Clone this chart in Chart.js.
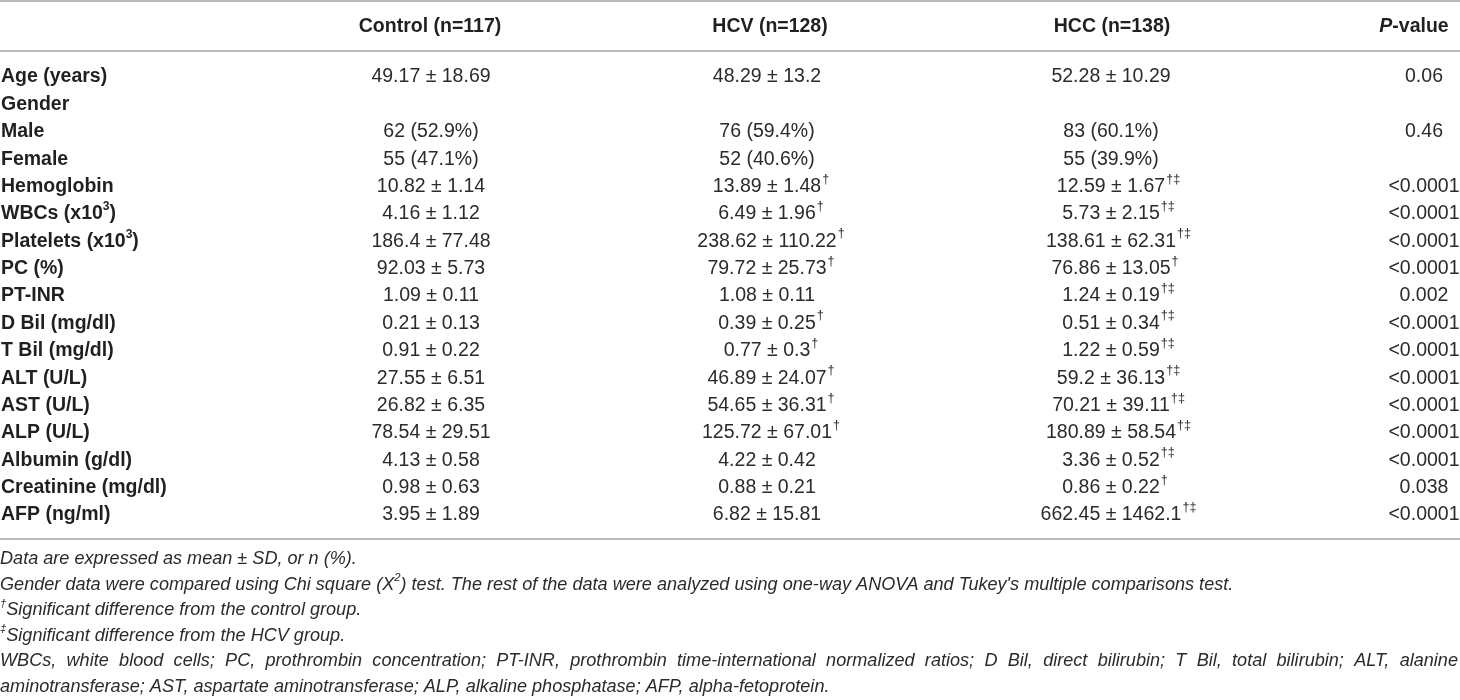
<!DOCTYPE html>
<html>
<head>
<meta charset="utf-8">
<script src="https://cdn.jsdelivr.net/npm/chart.js@4.4.1/dist/chart.umd.min.js"></script>
<style>
  html, body { margin: 0; padding: 0; background: #fff; }
  #wrap { width: 1460px; height: 700px; position: relative; }
</style>
</head>
<body>
<div id="wrap"><canvas id="tableChart"></canvas></div>
<script>
// Table content (superscripts written as ^{...})
const headers = ['', 'Control (n=117)', 'HCV (n=128)', 'HCC (n=138)', 'P-value'];
const rowLabels = [
    'Age (years)', 'Gender', 'Male', 'Female', 'Hemoglobin', 'WBCs (x10^{3})',
    'Platelets (x10^{3})', 'PC (%)', 'PT-INR', 'D Bil (mg/dl)', 'T Bil (mg/dl)',
    'ALT (U/L)', 'AST (U/L)', 'ALP (U/L)', 'Albumin (g/dl)', 'Creatinine (mg/dl)', 'AFP (ng/ml)'
];
const controlValues = [
    '49.17 ± 18.69', '', '62 (52.9%)', '55 (47.1%)', '10.82 ± 1.14', '4.16 ± 1.12',
    '186.4 ± 77.48', '92.03 ± 5.73', '1.09 ± 0.11', '0.21 ± 0.13', '0.91 ± 0.22',
    '27.55 ± 6.51', '26.82 ± 6.35', '78.54 ± 29.51', '4.13 ± 0.58', '0.98 ± 0.63', '3.95 ± 1.89'
];
const hcvValues = [
    '48.29 ± 13.2', '', '76 (59.4%)', '52 (40.6%)', '13.89 ± 1.48', '6.49 ± 1.96',
    '238.62 ± 110.22', '79.72 ± 25.73', '1.08 ± 0.11', '0.39 ± 0.25', '0.77 ± 0.3',
    '46.89 ± 24.07', '54.65 ± 36.31', '125.72 ± 67.01', '4.22 ± 0.42', '0.88 ± 0.21', '6.82 ± 15.81'
];
const hcvMarks = ['', '', '', '', '†', '†', '†', '†', '', '†', '†', '†', '†', '†', '', '', ''];
const hccValues = [
    '52.28 ± 10.29', '', '83 (60.1%)', '55 (39.9%)', '12.59 ± 1.67', '5.73 ± 2.15',
    '138.61 ± 62.31', '76.86 ± 13.05', '1.24 ± 0.19', '0.51 ± 0.34', '1.22 ± 0.59',
    '59.2 ± 36.13', '70.21 ± 39.11', '180.89 ± 58.54', '3.36 ± 0.52', '0.86 ± 0.22', '662.45 ± 1462.1'
];
const hccMarks = ['', '', '', '', '†‡', '†‡', '†‡', '†', '†‡', '†‡', '†‡', '†‡', '†‡', '†‡', '†‡', '†', '†‡'];
const pValues = [
    '0.06', '', '0.46', '', '<0.0001', '<0.0001', '<0.0001', '<0.0001', '0.002',
    '<0.0001', '<0.0001', '<0.0001', '<0.0001', '<0.0001', '<0.0001', '0.038', '<0.0001'
];
const footnotes = [
    'Data are expressed as mean ± SD, or n (%).',
    'Gender data were compared using Chi square (X^{2}) test. The rest of the data were analyzed using one-way ANOVA and Tukey\'s multiple comparisons test.',
    '^{†}Significant difference from the control group.',
    '^{‡}Significant difference from the HCV group.',
    'WBCs, white blood cells; PC, prothrombin concentration; PT-INR, prothrombin time-international normalized ratios; D Bil, direct bilirubin; T Bil, total bilirubin; ALT, alanine',
    'aminotransferase; AST, aspartate aminotransferase; ALP, alkaline phosphatase; AFP, alpha-fetoprotein.'
];
const justifiedNotes = [4];

// layout (row units on the y scale: data row i sits at value i)
const ROW_TOP = 77, ROW_H = 27.375, PAGE_H = 700;
const colX = [1, 431, 767, 1111, 1424];
const headerX = [1, 430, 770, 1112, 1414];
const toRow = px => (px - ROW_TOP) / ROW_H;
const headerRow = toRow(27);
const ruleRows = [toRow(1), toRow(51), toRow(539)];
const noteRow0 = toRow(559), noteStep = 25.6 / ROW_H;

const FAMILY = '"Liberation Sans", Arial, Helvetica, sans-serif';
const TEXT = '#231f20';
const VALUE_TEXT = '#2c2a2b';
const RULE = '#a3a3a3';

// split "abc^{x}def" into parts
function parseRich(s) {
    const parts = [];
    const re = /\^\{([^}]*)\}/g;
    let last = 0, m;
    while ((m = re.exec(s)) !== null) {
        if (m.index > last) parts.push({ t: s.slice(last, m.index), sup: false });
        parts.push({ t: m[1], sup: true });
        last = re.lastIndex;
    }
    if (last < s.length) parts.push({ t: s.slice(last), sup: false });
    return parts;
}

function font(style, size) { return style + ' ' + size + 'px ' + FAMILY; }

function drawRich(ctx, parts, x, y, style, size) {
    parts.forEach(p => {
        const s = p.sup ? size * 0.62 : size;
        ctx.font = font(style, s);
        ctx.fillText(p.t, x, p.sup ? y - size * 0.36 : y);
        x += ctx.measureText(p.t).width;
    });
    return x;
}

// main text centred on x, marks hang after it
function drawCell(ctx, text, mark, x, y, size) {
    if (!text) return;
    ctx.font = font('normal', size);
    const w = ctx.measureText(text).width;
    const left = x - w / 2;
    ctx.fillText(text, left, y);
    if (mark) {
        ctx.font = font('normal', size * 0.65);
        ctx.fillText(mark, left + w + 1, y - size * 0.38);
    }
}

const tablePlugin = {
    id: 'tableText',
    afterDatasetsDraw(chart) {
        const ctx = chart.ctx;
        const xs = chart.scales.x, ys = chart.scales.y;
        const size = 19.5;
        ctx.save();
        ctx.fillStyle = TEXT;
        ctx.textBaseline = 'middle';
        ctx.textAlign = 'left';

        // header
        const hy = ys.getPixelForValue(headerRow);
        headers.forEach((h, i) => {
            if (!h) return;
            const cx = xs.getPixelForValue(headerX[i]);
            if (h === 'P-value') {
                ctx.font = font('italic bold', size);
                const wp = ctx.measureText('P').width;
                ctx.font = font('bold', size);
                const wr = ctx.measureText('-value').width;
                const left = cx - (wp + wr) / 2;
                ctx.font = font('italic bold', size);
                ctx.fillText('P', left, hy);
                ctx.font = font('bold', size);
                ctx.fillText('-value', left + wp, hy);
            } else {
                ctx.font = font('bold', size);
                ctx.fillText(h, cx - ctx.measureText(h).width / 2, hy);
            }
        });

        // body rows
        rowLabels.forEach((label, i) => {
            const y = ys.getPixelForValue(i);
            ctx.fillStyle = TEXT;
            drawRich(ctx, parseRich(label), xs.getPixelForValue(colX[0]), y, 'bold', size);
            ctx.fillStyle = VALUE_TEXT;
            drawCell(ctx, controlValues[i], '', xs.getPixelForValue(colX[1]), y, size);
            drawCell(ctx, hcvValues[i], hcvMarks[i], xs.getPixelForValue(colX[2]), y, size);
            drawCell(ctx, hccValues[i], hccMarks[i], xs.getPixelForValue(colX[3]), y, size);
            drawCell(ctx, pValues[i], '', xs.getPixelForValue(colX[4]), y, size);
        });

        // footnotes
        const fsize = 18.1;
        ctx.fillStyle = VALUE_TEXT;
        const x0 = xs.getPixelForValue(0), x1 = xs.getPixelForValue(1458);
        footnotes.forEach((note, j) => {
            const y = ys.getPixelForValue(noteRow0 + j * noteStep);
            if (justifiedNotes.includes(j)) {
                const words = note.split(' ');
                ctx.font = font('italic', fsize);
                const total = words.reduce((a, w) => a + ctx.measureText(w).width, 0);
                const gap = (x1 - x0 - total) / (words.length - 1);
                let x = x0;
                words.forEach(w => {
                    ctx.fillText(w, x, y);
                    x += ctx.measureText(w).width + gap;
                });
            } else {
                drawRich(ctx, parseRich(note), x0, y, 'italic', fsize);
            }
        });
        ctx.restore();
    }
};

// horizontal rules as line datasets
const ruleSets = ruleRows.map(r => ({
    data: [{ x: 0, y: r }, { x: 1460, y: r }],
    showLine: true,
    borderColor: RULE,
    borderWidth: 1.6,
    pointRadius: 0,
    fill: false
}));

new Chart(document.getElementById('tableChart').getContext('2d'), {
    type: 'scatter',
    data: { datasets: ruleSets },
    options: {
        responsive: true,
        maintainAspectRatio: false,
        animation: false,
        events: [],
        layout: { padding: 0 },
        plugins: { legend: { display: false }, tooltip: { enabled: false } },
        scales: {
            x: { type: 'linear', min: 0, max: 1460, display: false },
            y: { type: 'linear', min: toRow(0), max: toRow(PAGE_H), reverse: true, display: false }
        }
    },
    plugins: [tablePlugin]
});
</script>
</body>
</html>
